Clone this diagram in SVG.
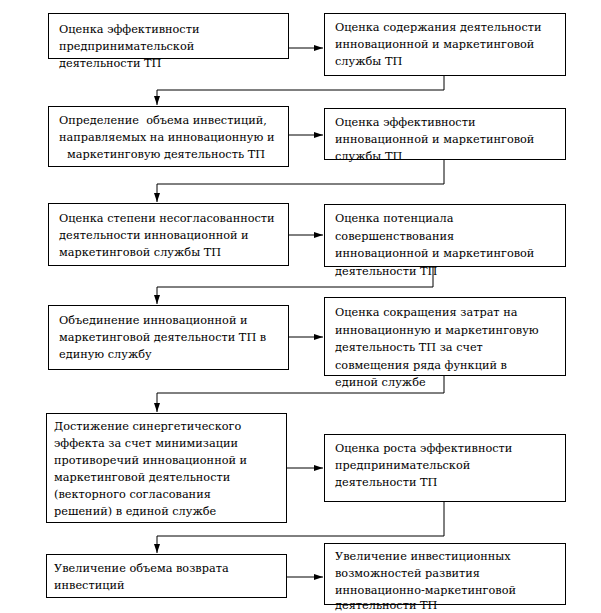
<svg xmlns="http://www.w3.org/2000/svg" width="601" height="613" viewBox="0 0 601 613">
<style>
rect{fill:#fff;stroke:#000;stroke-width:1}
text{font-family:'DejaVu Serif','Liberation Serif',serif;font-size:11.3px;fill:#000}
.c{fill:none;stroke:#000;stroke-width:1}
</style>
<defs>
<marker id="a" markerUnits="userSpaceOnUse" markerWidth="10" markerHeight="7" refX="9" refY="3" orient="auto"><path d="M0,0L9,3L0,6z" fill="#000"/></marker>
</defs>
<rect width="601" height="613" style="stroke:none"/>
<g id="connectors">
<path class="c" d="M288,48H323" marker-end="url(#a)"/>
<path class="c" d="M444,75V90H157V105" marker-end="url(#a)"/>
<path class="c" d="M288,135H323" marker-end="url(#a)"/>
<path class="c" d="M444,159V184H157V202" marker-end="url(#a)"/>
<path class="c" d="M288,235H323" marker-end="url(#a)"/>
<path class="c" d="M433,266V287H157V304" marker-end="url(#a)"/>
<path class="c" d="M288,337H323" marker-end="url(#a)"/>
<path class="c" d="M444,375V393H157V412" marker-end="url(#a)"/>
<path class="c" d="M286,468H323" marker-end="url(#a)"/>
<path class="c" d="M444,501V536H157V553" marker-end="url(#a)"/>
<path class="c" d="M286,577H323" marker-end="url(#a)"/>
</g>
<g id="n1"><rect x="48.5" y="13.5" width="240" height="45"/>
<text x="59" y="33">Оценка эффективности</text><text x="59" y="50">предпринимательской</text><text x="59" y="67">деятельности ТП</text></g>
<g id="n2"><rect x="324.5" y="13.5" width="241" height="62"/>
<text x="335" y="31">Оценка содержания деятельности</text><text x="335" y="48">инновационной и маркетинговой</text><text x="335" y="65">службы ТП</text></g>
<g id="n3"><rect x="48.5" y="106.5" width="240" height="60"/>
<text x="59" y="124" xml:space="preserve">Определение  объема инвестиций,</text><text x="59" y="141">направляемых на инновационную и</text><text x="67" y="158">маркетинговую деятельность ТП</text></g>
<g id="n4"><rect x="324.5" y="108.5" width="241" height="51"/>
<text x="335" y="126">Оценка эффективности</text><text x="335" y="143">инновационной и маркетинговой</text><text x="335" y="160">службы ТП</text></g>
<g id="n5"><rect x="48.5" y="203.5" width="240" height="62"/>
<text x="59" y="222">Оценка степени несогласованности</text><text x="59" y="239">деятельности инновационной и</text><text x="59" y="256">маркетинговой службы ТП</text></g>
<g id="n6"><rect x="324.5" y="204.5" width="241" height="62"/>
<text x="335" y="222">Оценка потенциала</text><text x="335" y="239.5">совершенствования</text><text x="335" y="257">инновационной и маркетинговой</text><text x="335" y="274.5">деятельности ТП</text></g>
<g id="n7"><rect x="48.5" y="305.5" width="240" height="64"/>
<text x="59" y="324">Объединение инновационной и</text><text x="59" y="341">маркетинговой деятельности ТП в</text><text x="59" y="358">единую службу</text></g>
<g id="n8"><rect x="324.5" y="297.5" width="241" height="78"/>
<text x="335" y="316">Оценка сокращения затрат на</text><text x="335" y="333.5">инновационную и маркетинговую</text><text x="335" y="351">деятельность ТП за счет</text><text x="335" y="368.5">совмещения ряда функций в</text><text x="335" y="386">единой службе</text></g>
<g id="n9"><rect x="46.5" y="413.5" width="240" height="109"/>
<text x="54" y="430">Достижение синергетического</text><text x="54" y="447">эффекта за счет минимизации</text><text x="54" y="464">противоречий инновационной и</text><text x="54" y="481">маркетинговой деятельности</text><text x="54" y="498">(векторного согласования</text><text x="54" y="515">решений) в единой службе</text></g>
<g id="n10"><rect x="324.5" y="434.5" width="241" height="67"/>
<text x="335" y="452">Оценка роста эффективности</text><text x="335" y="469">предпринимательской</text><text x="335" y="486">деятельности ТП</text></g>
<g id="n11"><rect x="46.5" y="554.5" width="240" height="43"/>
<text x="54" y="572">Увеличение объема возврата</text><text x="54" y="589">инвестиций</text></g>
<g id="n12"><rect x="324.5" y="543.5" width="241" height="61"/>
<text x="335" y="560">Увеличение инвестиционных</text><text x="335" y="577">возможностей развития</text><text x="335" y="594">инновационно-маркетинговой</text><text x="335" y="609">деятельности ТП</text></g>
</svg>
